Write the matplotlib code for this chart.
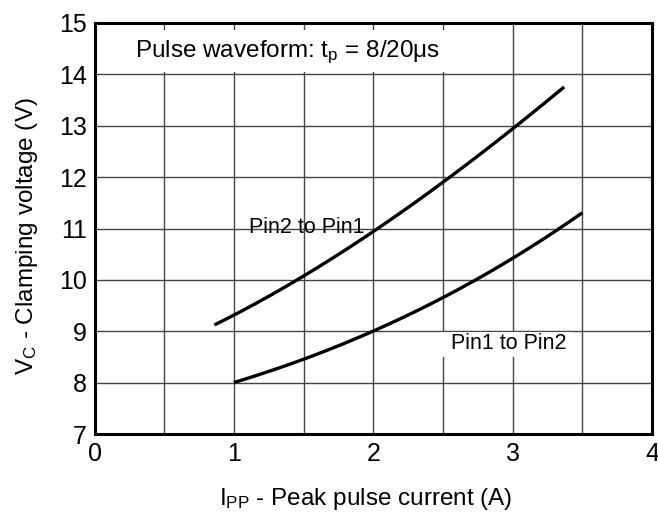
import matplotlib
matplotlib.use("Agg")
import matplotlib.pyplot as plt
from matplotlib.patches import Rectangle
import numpy as np

plt.rcParams['font.family'] = ['Liberation Sans', 'DejaVu Sans']
plt.rcParams['mathtext.fontset'] = 'custom'
plt.rcParams['mathtext.rm'] = 'Liberation Sans'
plt.rcParams['mathtext.it'] = 'Liberation Sans'
plt.rcParams['mathtext.default'] = 'rm'

# Peak pulse current (A) vs clamping voltage (V)
ipp_pin2_pin1 = [0.86, 1.00, 1.48, 2.01, 2.54, 3.04, 3.37]
vc_pin2_pin1 = [9.12, 9.33, 10.00, 11.00, 11.98, 13.00, 13.77]

ipp_pin1_pin2 = [1.00, 1.50, 2.00, 2.50, 3.00, 3.34, 3.50]
vc_pin1_pin2 = [8.00, 8.46, 9.00, 9.65, 10.43, 11.00, 11.31]

x_ticks = [0, 1, 2, 3, 4]
y_ticks = [7, 8, 9, 10, 11, 12, 13, 14, 15]


def smooth(xs, ys, n=200):
    xs = np.asarray(xs, float)
    ys = np.asarray(ys, float)
    c = np.polyfit(xs, ys, 3)
    xx = np.linspace(xs[0], xs[-1], n)
    return xx, np.polyval(c, xx)


W, H = 658, 512
fig = plt.figure(figsize=(W / 100, H / 100), dpi=100)
left, right, top, bottom = 94.5, 652.0, 23.0, 434.0
ax = fig.add_axes([left / W, 1 - bottom / H, (right - left) / W, (bottom - top) / H])

ax.set_xlim(0, 4)
ax.set_ylim(7, 15)
ax.set_xticks(x_ticks)
ax.set_xticks(np.arange(0.5, 4, 1.0), minor=True)
ax.set_yticks(y_ticks)
ax.grid(True, which='both', color='#444444', linewidth=1.0)
ax.set_axisbelow(True)
ax.tick_params(which='both', length=0)
ax.tick_params(axis='y', labelsize=18, pad=5.5)
ax.tick_params(axis='x', labelsize=18, pad=6)
for s in ax.spines.values():
    s.set_linewidth(2.2)
    s.set_color('black')
    s.set_zorder(5)

xs, ys = smooth(ipp_pin2_pin1, vc_pin2_pin1)
ax.plot(xs, ys, color='black', linewidth=2.4, solid_capstyle='butt', zorder=3)
xs, ys = smooth(ipp_pin1_pin2, vc_pin1_pin2)
ax.plot(xs, ys, color='black', linewidth=2.4, solid_capstyle='butt', zorder=3)

# white panels behind the annotations
ax.add_patch(Rectangle((0.1, 14.04), 2.75, 0.83, facecolor='white',
                       edgecolor='none', zorder=2))
ax.add_patch(Rectangle((2.47, 8.50), 0.96, 0.48, facecolor='white',
                       edgecolor='none', zorder=2))

ax.text(0.29, 14.34, 'Pulse waveform: t$_\\mathrm{p}$ = 8/20μs', fontsize=17.5,
        ha='left', va='baseline', zorder=4)
ax.text(1.52, 10.91, 'Pin2 to Pin1', fontsize=15.5, ha='center', va='baseline',
        zorder=4)
ax.text(2.97, 8.65, 'Pin1 to Pin2', fontsize=15.5, ha='center', va='baseline',
        zorder=4)

fig.text(365.5 / W, 1 - 505 / H, 'I$_\\mathrm{PP}$ - Peak pulse current (A)',
         fontsize=17.5, ha='center', va='baseline')
fig.text(33 / W, 1 - 236.5 / H, 'V$_\\mathrm{C}$ - Clamping voltage (V)',
         fontsize=17.5, ha='center', va='baseline', rotation=90,
         rotation_mode='anchor')

fig.savefig('out.png', dpi=100)
